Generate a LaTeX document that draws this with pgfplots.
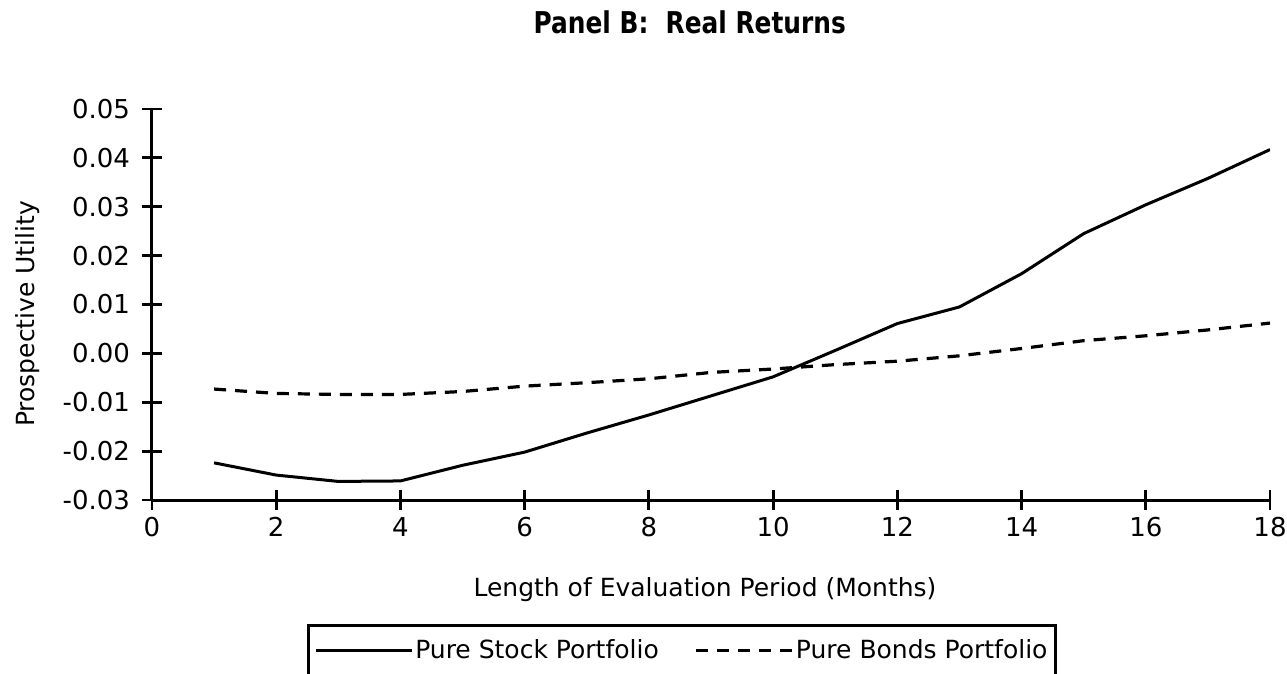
\documentclass[border=0pt]{standalone}
\usepackage{fontspec}
\setmainfont{DejaVu Sans}
\newfontfamily\titlefont[FakeStretch=0.92]{DejaVu Sans Condensed}
\usepackage{pgfplots}
\pgfplotsset{compat=1.18}
\begin{document}
\begin{tikzpicture}
\begin{axis}[
  scale only axis,
  width=559pt, height=195.5pt,
  xmin=0, xmax=18, ymin=-0.03, ymax=0.05,
  axis lines=left,
  axis line style={line width=1.5pt, -},
  every tick/.style={line width=1.4pt, black},
  tick align=center,
  major tick length=10pt,
  xtick={0,2,...,18},
  ytick={-0.03,-0.02,-0.01,0,0.01,0.02,0.03,0.04,0.05},
  scaled y ticks=false,
  yticklabel style={/pgf/number format/fixed, /pgf/number format/precision=2, /pgf/number format/fixed zerofill, xshift=-2.5pt},
  /pgf/number format/assume math mode=true,
  ticklabel style={font=\fontsize{13}{15}\selectfont},
  xlabel={Length of Evaluation Period (Months)},
  ylabel={Prospective Utility},
  label style={font=\fontsize{12.5}{14}\selectfont},
  xlabel style={at={(axis description cs:0.4946,-0.230)}, anchor=center},
  ylabel style={at={(axis description cs:-0.111,0.476)}, anchor=center},
  title={\titlefont\bfseries Panel B:\ \ Real Returns},
  title style={at={(axis description cs:0.481,1.192)}, anchor=center, font=\fontsize{15}{17}\selectfont},
  legend columns=2,
  legend style={at={(axis description cs:0.1386,-0.317)}, anchor=north west, draw=black, line width=1.3pt,
    font=\fontsize{12.5}{14}\selectfont, inner xsep=3pt, inner ysep=5pt,
    nodes={inner xsep=1pt},
    /tikz/every even column/.append style={column sep=17pt}},
  legend image code/.code={\draw[#1] (0pt,0pt) -- (48pt,0pt);},
  legend cell align=left,
]
\addplot[black, line width=1.5pt] coordinates {
 (1,-0.0224) (2,-0.0249) (3,-0.0262) (4,-0.0261) (5,-0.0229) (6,-0.0202)
 (7,-0.0163) (8,-0.0126) (9,-0.0087) (10,-0.0048) (11,0.0006) (12,0.0061)
 (13,0.0095) (14,0.0163) (15,0.0245) (16,0.0304) (17,0.0358) (18,0.0417)
};
\addlegendentry{Pure Stock Portfolio}
\addplot[black, line width=1.6pt, dash pattern=on 6pt off 4.5pt] coordinates {
 (1,-0.0073) (2,-0.0082) (3,-0.0084) (4,-0.0084) (5,-0.0078) (6,-0.0067)
 (7,-0.0060) (8,-0.0052) (9,-0.0039) (10,-0.0032) (11,-0.0023) (12,-0.0016)
 (13,-0.0005) (14,0.0010) (15,0.0026) (16,0.0036) (17,0.0048) (18,0.0062)
};
\addlegendentry{Pure Bonds Portfolio}
\coordinate (bl) at (axis cs:0,-0.03);
\coordinate (tr) at (axis cs:18,0.05);
\end{axis}
\pgfresetboundingbox
\path[use as bounding box] ([xshift=-76pt,yshift=-86.5pt]bl) rectangle ([xshift=8.5pt,yshift=54.5pt]tr);
\end{tikzpicture}
\end{document}
